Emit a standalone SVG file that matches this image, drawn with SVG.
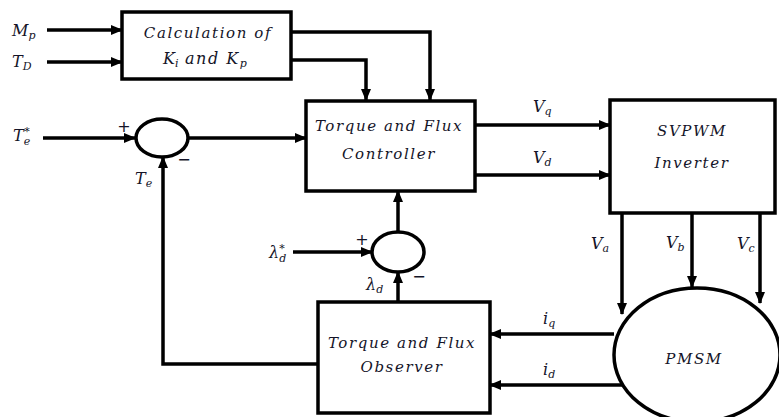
<svg xmlns="http://www.w3.org/2000/svg" width="779" height="417" viewBox="0 0 779 417">
<defs>
<marker id="ah" markerWidth="12" markerHeight="10" refX="11" refY="5" orient="auto" markerUnits="userSpaceOnUse">
<path d="M0,0 L12,5 L0,10 Z" fill="#000"/>
</marker>
<style>
.blk{fill:#fff;stroke:#000;stroke-width:3.5}
.ln{fill:none;stroke:#000;stroke-width:3.5;stroke-linejoin:miter}
.ar{marker-end:url(#ah)}
.t{font-family:"DejaVu Serif","Liberation Serif",serif;font-style:italic;font-size:15px;fill:#141428;letter-spacing:1.6px;text-anchor:middle}
.m{font-family:"DejaVu Serif","Liberation Serif",serif;font-style:italic;font-size:16px;fill:#141428}
.s{font-size:11px}
.sg{font-family:"DejaVu Sans",sans-serif;font-size:16px;fill:#141428;text-anchor:middle}
</style>
</defs>
<rect width="779" height="417" fill="#fff"/>
<g id="connectors">
<line class="ln ar" x1="47" y1="30" x2="122" y2="30"/>
<line class="ln ar" x1="47" y1="62" x2="122" y2="62"/>
<polyline class="ln ar" points="291,32 430,32 430,100"/>
<polyline class="ln ar" points="291,60 366,60 366,100"/>
<line class="ln ar" x1="43" y1="138" x2="135" y2="138"/>
<line class="ln ar" x1="188" y1="138" x2="306" y2="138"/>
<polyline class="ln ar" points="318,364 163,364 163,157"/>
<line class="ln ar" x1="475" y1="125" x2="610" y2="125"/>
<line class="ln ar" x1="475" y1="175" x2="610" y2="175"/>
<line class="ln ar" x1="622" y1="213" x2="622" y2="314"/>
<line class="ln ar" x1="692" y1="213" x2="692" y2="287"/>
<line class="ln ar" x1="760" y1="213" x2="760" y2="303"/>
<line class="ln ar" x1="614" y1="334" x2="490" y2="334"/>
<line class="ln ar" x1="624" y1="385" x2="490" y2="385"/>
<line class="ln ar" x1="293" y1="252" x2="372" y2="252"/>
<line class="ln ar" x1="398" y1="302" x2="398" y2="272"/>
<line class="ln ar" x1="398" y1="232" x2="398" y2="191"/>
</g>
<g id="calc">
<rect class="blk" x="122" y="12" width="169" height="67"/>
<text class="t" x="208" y="38">Calculation of</text>
<text class="m" x="163" y="64">K<tspan class="s" dy="3">i</tspan><tspan dy="-3" letter-spacing="1.5">  and K</tspan><tspan class="s" dy="3">p</tspan></text>
</g>
<g id="controller">
<rect class="blk" x="306" y="101" width="169" height="90"/>
<text class="t" x="389" y="131">Torque and Flux</text>
<text class="t" x="389" y="159">Controller</text>
</g>
<g id="svpwm">
<rect class="blk" x="610" y="100" width="165" height="113"/>
<text class="t" x="692" y="136">SVPWM</text>
<text class="t" x="692" y="168">Inverter</text>
</g>
<g id="observer">
<rect class="blk" x="318" y="302" width="172" height="111"/>
<text class="t" x="402" y="348">Torque and Flux</text>
<text class="t" x="402" y="372">Observer</text>
</g>
<g id="pmsm">
<ellipse class="blk" cx="697" cy="355" rx="83" ry="67"/>
<text class="t" x="694" y="364">PMSM</text>
</g>
<g id="sum1">
<ellipse class="blk" cx="162" cy="138" rx="26" ry="19"/>
<text class="sg" x="124" y="132">+</text>
<text class="sg" x="184" y="165">−</text>
</g>
<g id="sum2">
<ellipse class="blk" cx="398" cy="252" rx="26" ry="20"/>
<text class="sg" x="362" y="245">+</text>
<text class="sg" x="419" y="282">−</text>
</g>
<g id="labels">
<text class="m" x="12" y="36">M<tspan class="s" dy="3">p</tspan></text>
<text class="m" x="12" y="67">T<tspan class="s" dy="3">D</tspan></text>
<text class="m" x="13" y="141">T<tspan class="s" dy="4">e</tspan><tspan class="s" dx="-6" dy="-10">*</tspan></text>
<text class="m" x="135" y="184">T<tspan class="s" dy="3">e</tspan></text>
<text class="m" x="533" y="112">V<tspan class="s" dy="3">q</tspan></text>
<text class="m" x="533" y="163">V<tspan class="s" dy="3">d</tspan></text>
<text class="m" x="591" y="249">V<tspan class="s" dy="3">a</tspan></text>
<text class="m" x="666" y="248">V<tspan class="s" dy="3">b</tspan></text>
<text class="m" x="737" y="249">V<tspan class="s" dy="3">c</tspan></text>
<text class="m" x="543" y="324">i<tspan class="s" dy="3">q</tspan></text>
<text class="m" x="543" y="375">i<tspan class="s" dy="3">d</tspan></text>
<text class="m" x="269" y="258">λ<tspan class="s" dy="4">d</tspan><tspan class="s" dx="-7" dy="-10">*</tspan></text>
<text class="m" x="366" y="290">λ<tspan class="s" dy="3">d</tspan></text>
</g>
</svg>
